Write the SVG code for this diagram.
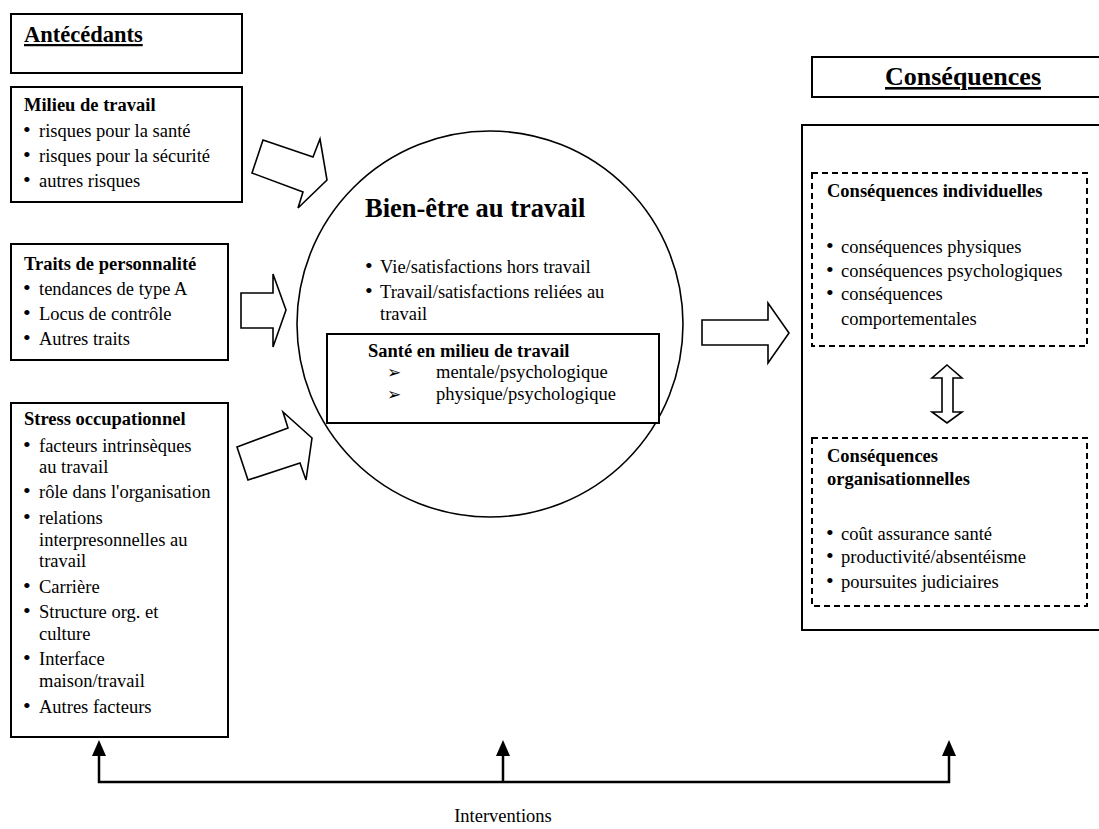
<svg xmlns="http://www.w3.org/2000/svg" width="1099" height="829" viewBox="0 0 1099 829">
<style>
text{font-family:"Liberation Serif","Times New Roman",serif;font-size:18.5px;fill:#000}
.b{font-weight:bold}
.bu{font-size:22px}
.box{fill:#fff;stroke:#000;stroke-width:2}
.dash{fill:none;stroke:#000;stroke-width:2;stroke-dasharray:6 4}
.blk{fill:#fff;stroke:#000;stroke-width:1.6;stroke-linejoin:miter}
.ln{fill:none;stroke:#000;stroke-width:2.5}
.ah{fill:#000}
.arr{font-family:"DejaVu Sans",sans-serif;font-size:17px}
</style>
<rect width="1099" height="829" fill="#fff"/>

<g id="antecedants">
<rect class="box" x="11" y="14" width="231" height="59"/>
<text class="b" x="24" y="42" style="font-size:22.5px" text-decoration="underline">Antécédants</text>
</g>

<g id="milieu">
<rect class="box" x="11" y="87" width="231" height="115"/>
<text class="b" x="24" y="111">Milieu de travail</text>
<text x="23" y="137"><tspan class="bu">•</tspan><tspan x="39">risques pour la santé</tspan></text>
<text x="23" y="162"><tspan class="bu">•</tspan><tspan x="39">risques pour la sécurité</tspan></text>
<text x="23" y="187"><tspan class="bu">•</tspan><tspan x="39">autres risques</tspan></text>
</g>

<g id="traits">
<rect class="box" x="11" y="244" width="217" height="116"/>
<text class="b" x="24" y="270">Traits de personnalité</text>
<text x="23" y="295"><tspan class="bu">•</tspan><tspan x="39">tendances de type A</tspan></text>
<text x="23" y="320"><tspan class="bu">•</tspan><tspan x="39">Locus de contrôle</tspan></text>
<text x="23" y="345"><tspan class="bu">•</tspan><tspan x="39">Autres traits</tspan></text>
</g>

<g id="stress">
<rect class="box" x="11" y="403" width="217" height="334"/>
<text class="b" x="24" y="425">Stress occupationnel</text>
<text x="23" y="452"><tspan class="bu">•</tspan><tspan x="39">facteurs intrinsèques</tspan></text>
<text x="39" y="473">au travail</text>
<text x="23" y="498"><tspan class="bu">•</tspan><tspan x="39">rôle dans l'organisation</tspan></text>
<text x="23" y="524"><tspan class="bu">•</tspan><tspan x="39">relations</tspan></text>
<text x="39" y="546">interpresonnelles au</text>
<text x="39" y="567">travail</text>
<text x="23" y="593"><tspan class="bu">•</tspan><tspan x="39">Carrière</tspan></text>
<text x="23" y="618"><tspan class="bu">•</tspan><tspan x="39">Structure org. et</tspan></text>
<text x="39" y="640">culture</text>
<text x="23" y="665"><tspan class="bu">•</tspan><tspan x="39">Interface</tspan></text>
<text x="39" y="687">maison/travail</text>
<text x="23" y="713"><tspan class="bu">•</tspan><tspan x="39">Autres facteurs</tspan></text>
</g>

<g id="bienetre">
<circle cx="490" cy="324" r="193" fill="#fff" stroke="#000" stroke-width="1.6"/>
<text class="b" x="365" y="217" style="font-size:26.5px">Bien-être au travail</text>
<text x="365" y="273"><tspan class="bu">•</tspan><tspan x="380">Vie/satisfactions hors travail</tspan></text>
<text x="365" y="298"><tspan class="bu">•</tspan><tspan x="380">Travail/satisfactions reliées au</tspan></text>
<text x="380" y="320">travail</text>
</g>

<g id="sante">
<rect class="box" x="327" y="334" width="332" height="89" fill="none"/>
<text class="b" x="368" y="357">Santé en milieu de travail</text>
<text x="387" y="378"><tspan class="arr">➢</tspan><tspan x="436">mentale/psychologique</tspan></text>
<text x="387" y="400"><tspan class="arr">➢</tspan><tspan x="436">physique/psychologique</tspan></text>
</g>

<g id="consequences-titre">
<rect class="box" x="812" y="57" width="300" height="40"/>
<text class="b" x="885" y="85" style="font-size:26px" text-decoration="underline">Conséquences</text>
</g>

<g id="consequences">
<rect class="box" x="802" y="125" width="310" height="505"/>
</g>

<g id="individuelles">
<rect class="dash" x="812" y="173" width="275" height="173"/>
<text class="b" x="827" y="197">Conséquences individuelles</text>
<text x="826" y="253"><tspan class="bu">•</tspan><tspan x="841">conséquences physiques</tspan></text>
<text x="826" y="277"><tspan class="bu">•</tspan><tspan x="841">conséquences psychologiques</tspan></text>
<text x="826" y="300"><tspan class="bu">•</tspan><tspan x="841">conséquences</tspan></text>
<text x="841" y="325">comportementales</text>
</g>

<g id="organisationnelles">
<rect class="dash" x="812" y="438" width="275" height="168"/>
<text class="b" x="827" y="462">Conséquences</text>
<text class="b" x="827" y="485">organisationnelles</text>
<text x="826" y="540"><tspan class="bu">•</tspan><tspan x="841">coût assurance santé</tspan></text>
<text x="826" y="563"><tspan class="bu">•</tspan><tspan x="841">productivité/absentéisme</tspan></text>
<text x="826" y="588"><tspan class="bu">•</tspan><tspan x="841">poursuites judiciaires</tspan></text>
</g>

<g id="connecteurs">
<polygon class="blk" points="263,140 313,157 320,139 327,180 298,208 303,192 252,173"/>
<polygon class="blk" points="241,293 273,293 273,274 286,310 273,347 273,328 241,328"/>
<polygon class="blk" points="237,447 288,428 283,412 312,438 306,480 300,463 248,480"/>
<polygon class="blk" points="702,320 768,320 768,303 789,333 768,363 768,345 702,345"/>
<polygon class="blk" points="947,365 962,378 953,378 953,412 962,412 947,423 932,412 942,412 942,378 932,378"/>
<path class="ln" d="M99,755 V782 H949 V755 M503,782 V755"/>
<polygon class="ah" points="99,740 92,756 106,756"/>
<polygon class="ah" points="503,740 496,756 510,756"/>
<polygon class="ah" points="949,740 942,756 956,756"/>
</g>

<g id="interventions">
<text x="503" y="822" text-anchor="middle">Interventions</text>
</g>
</svg>
